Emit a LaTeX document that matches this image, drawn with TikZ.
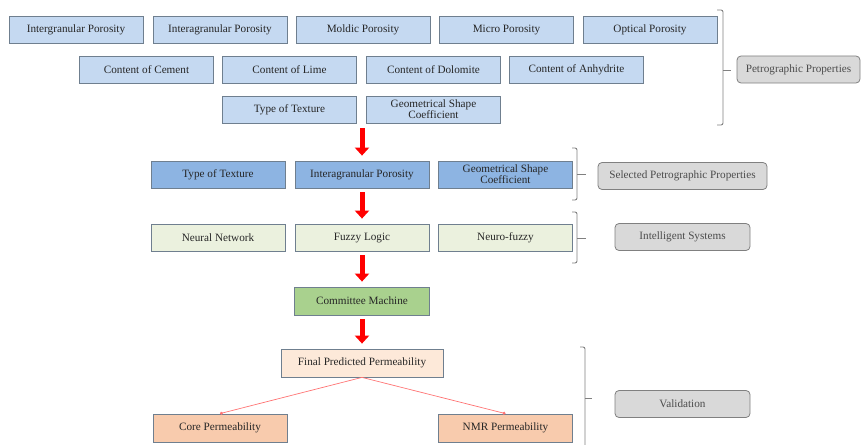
\documentclass[tikz,border=0pt]{standalone}
\usepackage{fontspec}
\setmainfont{Liberation Serif}
\usetikzlibrary{arrows.meta}
\definecolor{petroblue}{HTML}{C5D9F1}
\definecolor{selblue}{HTML}{8DB4E2}
\definecolor{intgreen}{HTML}{EBF1DE}
\definecolor{cmgreen}{HTML}{A9D18E}
\definecolor{finpeach}{HTML}{FDE9D9}
\definecolor{valpeach}{HTML}{F8CBAD}
\definecolor{tagfill}{HTML}{D9D9D9}
\definecolor{boxline}{HTML}{6F7F8F}
\begin{document}
\begin{tikzpicture}[x=1pt, y=-1pt, font=\fontsize{11.2}{11}\selectfont]
\tikzset{
        box/.style={draw=boxline, line width=0.8pt, minimum width=134pt, minimum height=27pt, inner sep=0pt, align=center, text=black!85},
        petro/.style={box, fill=petroblue},
        sel/.style={box, fill=selblue},
        intel/.style={box, fill=intgreen},
        tag/.style={draw=gray, line width=0.8pt, fill=tagfill, rounded corners=4pt, minimum height=27pt, inner sep=0pt, text=black!70},
        bigarrow/.style={draw=red, line width=5pt, -{Triangle[width=14pt,length=8pt]}, shorten >=5pt},
        thinlink/.style={draw=red!55, line width=0.7pt, -{Circle[length=3pt]}},
        brace/.style={draw=gray, line width=0.9pt, rounded corners=2pt},
    }
\useasboundingbox (0,0) rectangle (861,444);
\node[petro] (inter) at (76,30) {Intergranular Porosity};
\node[petro] (intra) at (220,30) {Interagranular Porosity};
\node[petro] (moldic) at (363,30) {Moldic Porosity};
\node[petro] (micro) at (506.5,30) {Micro Porosity};
\node[petro] (optical) at (650,30) {Optical Porosity};
\node[petro] (cement) at (146.5,69.5) {Content of Cement};
\node[petro] (lime) at (289.5,69.5) {Content of Lime};
\node[petro] (dolomite) at (433.5,69.5) {Content of Dolomite};
\node[petro] (anhydrite) at (576.5,69.5) {Content of Anhydrite};
\node[petro] (texture) at (289.5,109.5) {Type of Texture};
\node[petro] (shape) at (433.5,109.5) {Geometrical Shape\\Coefficient};
\node[tag, minimum width=123pt] (petrotag) at (798.5,69.5) {Petrographic Properties};

\node[sel] (seltexture) at (218,174.5) {Type of Texture};
\node[sel] (selintra) at (362,174.5) {Interagranular Porosity};
\node[sel] (selshape) at (505.5,174.5) {Geometrical Shape\\Coefficient};
\node[tag, minimum width=169pt] (seltag) at (682.5,176) {Selected Petrographic Properties};

\node[intel] (neural) at (218,237.5) {Neural Network};
\node[intel] (fuzzy) at (362,237.5) {Fuzzy Logic};
\node[intel] (neurofuzzy) at (505.5,237.5) {Neuro-fuzzy};
\node[tag, minimum width=135pt] (inteltag) at (682.5,237) {Intelligent Systems};

\node[box, fill=cmgreen, minimum width=135pt, minimum height=28pt] (committee) at (362,301) {Committee Machine};
\node[box, fill=finpeach, minimum width=162pt, minimum height=28pt] (final) at (362,363) {Final Predicted Permeability};
\node[box, fill=valpeach, minimum height=28pt] (core) at (220,428) {Core Permeability};
\node[box, fill=valpeach, minimum height=28pt] (nmr) at (505.5,428) {NMR Permeability};
\node[tag, minimum width=135pt] (valtag) at (682.5,404) {Validation};

\coordinate (petroout) at (362,128);
\draw[bigarrow] (petroout) -- (selintra.north);
\draw[bigarrow, shorten <=4pt] (selintra.south) -- (fuzzy.north);
\draw[bigarrow, shorten <=4pt] (fuzzy.south) -- (committee.north);
\draw[bigarrow, shorten <=4pt] (committee.south) -- (final.north);
\draw[thinlink] (final.south) -- (core.north);
\draw[thinlink] (final.south) -- (nmr.north);

\draw[brace] (717,10) -- (723,10) -- (723,125) -- (717,125);
\draw[brace] (723,70) -- (731,70);
\draw[brace] (572,148) -- (577,148) -- (577,200) -- (572,200);
\draw[brace] (577,174) -- (586,174);
\draw[brace] (572,212) -- (577,212) -- (577,263) -- (572,263);
\draw[brace] (577,238) -- (586,238);
\draw[brace] (580,347) -- (585,347) -- (585,446);
\draw[brace] (585,398) -- (592,398);
\end{tikzpicture}
\end{document}
